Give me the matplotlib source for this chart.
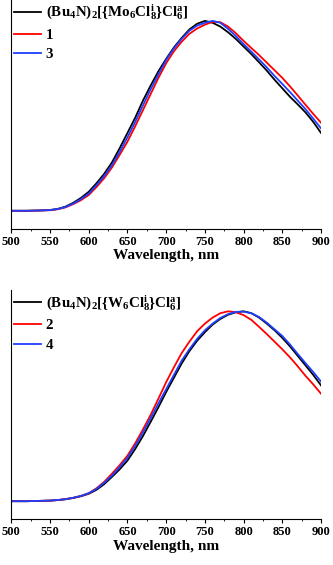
import numpy as np
import matplotlib
matplotlib.use("Agg")
import matplotlib.pyplot as plt
from matplotlib.ticker import MultipleLocator

plt.rcParams['font.family'] = ['Liberation Serif', 'DejaVu Serif']
plt.rcParams['font.weight'] = 'bold'
plt.rcParams['mathtext.fontset'] = 'custom'
plt.rcParams['mathtext.rm'] = 'Liberation Serif:bold'
plt.rcParams['mathtext.it'] = 'Liberation Serif:bold'
plt.rcParams['mathtext.bf'] = 'Liberation Serif:bold'

# normalised emission spectra (every 10 nm)
wl = list(range(500, 901, 10))

mo_ref = [0, 0, 0, 0.001, 0.002, 0.004, 0.01, 0.022, 0.042, 0.068,
          0.10, 0.145, 0.195, 0.255, 0.33, 0.41, 0.49, 0.58, 0.66, 0.735,
          0.80, 0.86, 0.91, 0.955, 0.985, 1.0, 0.99, 0.97, 0.94, 0.905,
          0.865, 0.825, 0.782, 0.738, 0.69, 0.645, 0.60, 0.56, 0.518, 0.468, 0.41]
mo_1 = [0, 0, 0, 0.001, 0.002, 0.003, 0.008, 0.018, 0.035, 0.056,
        0.083, 0.125, 0.172, 0.228, 0.295, 0.364, 0.445, 0.53, 0.615, 0.70,
        0.777, 0.84, 0.89, 0.932, 0.96, 0.98, 0.995, 0.993, 0.97, 0.935,
        0.895, 0.857, 0.82, 0.78, 0.74, 0.70, 0.655, 0.607, 0.558, 0.51, 0.464]
mo_3 = [0, 0, 0, 0.001, 0.002, 0.004, 0.009, 0.02, 0.038, 0.062,
        0.09, 0.135, 0.183, 0.24, 0.31, 0.387, 0.468, 0.555, 0.64, 0.718,
        0.794, 0.855, 0.905, 0.948, 0.975, 0.99, 1.0, 0.99, 0.958, 0.92,
        0.878, 0.838, 0.797, 0.755, 0.71, 0.668, 0.625, 0.58, 0.535, 0.485, 0.434]

w_ref = [0, 0, 0, 0.001, 0.002, 0.003, 0.006, 0.01, 0.017, 0.026,
         0.039, 0.06, 0.09, 0.128, 0.168, 0.214, 0.275, 0.343, 0.418, 0.495,
         0.575, 0.65, 0.725, 0.79, 0.845, 0.89, 0.93, 0.96, 0.982, 0.995,
         1.0, 0.99, 0.967, 0.935, 0.90, 0.86, 0.815, 0.765, 0.715, 0.665, 0.61]
w_2 = [0, 0, 0, 0.001, 0.002, 0.003, 0.006, 0.011, 0.018, 0.028,
       0.042, 0.068, 0.102, 0.145, 0.19, 0.24, 0.305, 0.378, 0.455, 0.54,
       0.627, 0.705, 0.78, 0.84, 0.895, 0.935, 0.967, 0.99, 1.0, 0.995,
       0.98, 0.955, 0.918, 0.88, 0.84, 0.80, 0.757, 0.71, 0.66, 0.615, 0.566]
w_4 = [0, 0, 0, 0.001, 0.002, 0.003, 0.006, 0.011, 0.018, 0.028,
       0.042, 0.065, 0.097, 0.135, 0.18, 0.228, 0.292, 0.362, 0.438, 0.515,
       0.59, 0.665, 0.74, 0.80, 0.855, 0.90, 0.935, 0.965, 0.985, 0.997,
       0.998, 0.99, 0.97, 0.94, 0.905, 0.87, 0.825, 0.775, 0.727, 0.68, 0.63]

labels_mo = [r'$(\mathrm{Bu}_4\mathrm{N})_2[\{\mathrm{Mo}_6\mathrm{Cl}^{\mathrm{i}}_8\}\mathrm{Cl}^{\mathrm{a}}_6]$', '1', '3']
labels_w = [r'$(\mathrm{Bu}_4\mathrm{N})_2[\{\mathrm{W}_6\mathrm{Cl}^{\mathrm{i}}_8\}\mathrm{Cl}^{\mathrm{a}}_6]$', '2', '4']
colors = ['black', '#ff0000', '#1f3fff']

fig = plt.figure(figsize=(3.33, 5.65), dpi=100)
ax1 = fig.add_axes([0.034, 0.595, 0.93, 0.405])
ax2 = fig.add_axes([0.034, 0.081, 0.93, 0.405])

for ys, lab, c in zip([mo_ref, mo_1, mo_3], labels_mo, colors):
    ax1.plot(wl, ys, color=c, lw=1.3, label=lab)
for ys, lab, c in zip([w_ref, w_2, w_4], labels_w, colors):
    ax2.plot(wl, ys, color=c, lw=1.3, label=lab)

for ax in (ax1, ax2):
    ax.set_xlim(500, 900)
    ax.set_ylim(-0.095, 1.11)
    ax.xaxis.set_major_locator(MultipleLocator(50))
    ax.xaxis.set_minor_locator(MultipleLocator(25))
    ax.set_yticks([])
    ax.spines['top'].set_visible(False)
    ax.spines['right'].set_visible(False)
    ax.tick_params(axis='x', direction='out', length=3, width=0.8, labelsize=9, pad=2)
    ax.tick_params(axis='x', which='minor', length=1.5, width=0.6)
    ax.set_xlabel('Wavelength, nm', fontsize=11, fontweight='bold', labelpad=1)
    ax.legend(loc='upper left', frameon=False, handlelength=1.75,
              handletextpad=0.35, borderaxespad=0.05, borderpad=0.15, labelspacing=0.4,
              prop={'family': 'Liberation Serif', 'weight': 'bold', 'size': 10.8})

fig.savefig('out.png', dpi=100)
